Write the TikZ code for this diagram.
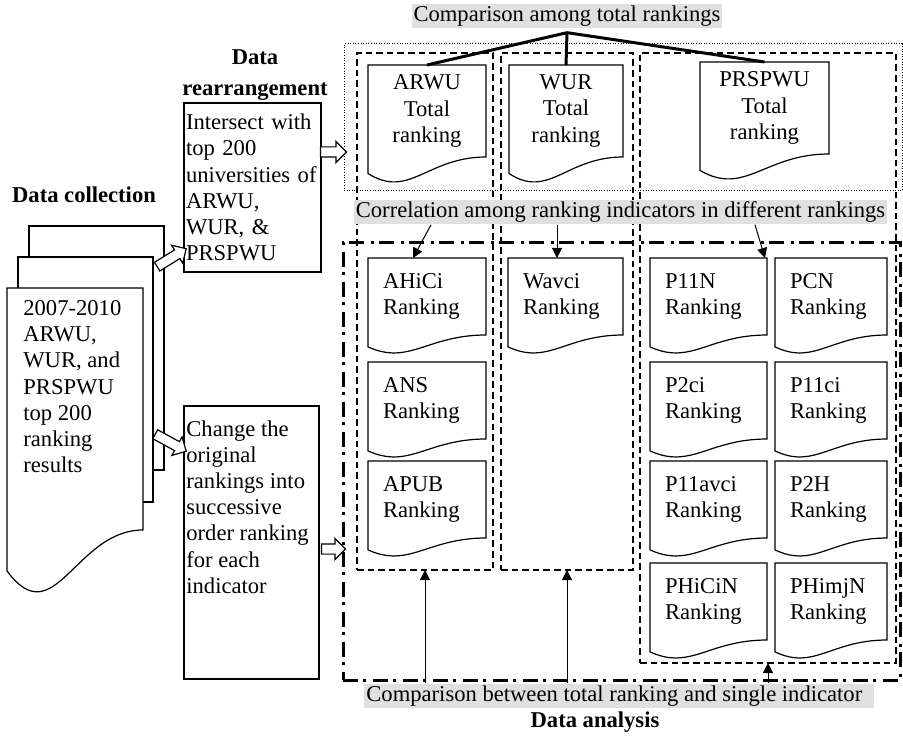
\documentclass[tikz,border=0pt]{standalone}
\usepackage{fontspec}
\setmainfont{Liberation Serif}
\usetikzlibrary{calc,shapes.arrows,arrows.meta}

\definecolor{capgray}{HTML}{E0E0E0}
\newcommand\diagfont{\fontsize{11.3}{13.1}\selectfont}

% document shape: straight sides, wavy edge under the node's south side
\newcommand\docoutline[3][]{%
  \draw[docline,#1] (#2.south east) -- (#2.north east) -- (#2.north west)
    -- ($(#2.south west)+(0,0.66*#3)$)
    .. controls ($(#2.south west)!0.35!(#2.south east)+(0,1.7*#3)$)
    and ($(#2.south west)!0.5!(#2.south east)$) .. (#2.south east) -- cycle;}

% hollow block arrow from one point to another
\newcommand\blockarrow[2]{%
  \path let \p1=(#1), \p2=(#2),
    \n1={atan2(\y2-\y1,\x2-\x1)}, \n2={veclen(\x2-\x1,\y2-\y1)} in
    node[blockarr, minimum height=\n2, rotate=\n1] at ($(\p1)!0.5!(\p2)$) {};}

\tikzset{
  procbox/.style={draw, line width=0.6pt, inner sep=0pt, outer sep=0pt},
  pagebox/.style={draw, fill=white, line width=0.6pt, inner sep=0pt, outer sep=0pt},
  docline/.style={line width=0.6pt},
  totdoc/.style={minimum height=46pt, align=center, inner sep=0pt, outer sep=0pt},
  rankdoc/.style={text width=#1, minimum height=38.5pt, inner xsep=7.5pt, inner ysep=0pt, outer sep=0pt, align=left},
  dotgrp/.style={draw, line width=0.5pt, dash pattern=on 0.5pt off 0.8pt, inner sep=0pt, outer sep=0pt},
  dashcol/.style={draw, line width=0.6pt, dash pattern=on 3.3pt off 2pt, inner sep=0pt, outer sep=0pt},
  anagrp/.style={draw, line width=1.5pt, dash pattern=on 7.5pt off 2.7pt on 1.5pt off 3.3pt, inner sep=0pt, outer sep=0pt},
  capbox/.style={fill=capgray, inner xsep=1pt, inner ysep=1pt},
  hdr/.style={font=\diagfont\bfseries, align=center},
  txt/.style={align=left, inner sep=0pt},
  totline/.style={line width=1.5pt},
  corrarrow/.style={line width=0.5pt, -{Triangle[length=5pt, width=5pt]}},
  blockarr/.style={single arrow, draw, fill=white, line width=0.6pt,
    inner xsep=0pt, inner ysep=2.25pt, outer sep=0pt,
    single arrow head extend=2.75pt, single arrow tip angle=90}
}

\begin{document}
\begin{tikzpicture}[x=0.5pt, y=-0.5pt, font=\diagfont]
\useasboundingbox (0,0) rectangle (903,737);

% Data collection (stack of pages)
\node[hdr] (collhdr) at (84,195) {Data collection};
\node[pagebox, minimum width=67.5pt, minimum height=122pt] (back) at (96.5,348) {};
\node[pagebox, minimum width=67.5pt, minimum height=122.5pt] (mid) at (85.5,379.5) {};
\node[minimum width=68pt, minimum height=121pt, inner sep=0pt, outer sep=0pt] (front) at (75,409) {};
\docoutline[fill=white]{front}{62}
\node[txt, anchor=north west] (fronttxt) at ([xshift=8pt,yshift=-6pt]front.north west)
  {2007-2010\\ARWU,\\WUR, and\\PRSPWU\\top 200\\ranking\\results};

% Data rearrangement
\node[hdr] (rearrhdr) at (255,75) {Data\\[2pt]rearrangement};
\node[procbox, minimum width=68.5pt, minimum height=84.5pt, text width=66.5pt, inner xsep=1pt, align=left]
  (isect) at (252.5,187.5) {Intersect with\\top 200\\universities of\\ARWU,\\WUR, \&\\PRSPWU};
\node[procbox, minimum width=67.5pt, minimum height=136.5pt] (change) at (251.5,542.5) {};
\node[txt, anchor=north west] (changetxt) at ([xshift=1pt,yshift=-7pt]change.north west)
  {Change the\\original\\rankings into\\successive\\order ranking\\for each\\indicator};

% Groups
\node[dotgrp, minimum width=279pt, minimum height=73.5pt] (totgrp) at (623,117.5) {};
\node[dashcol, minimum width=68pt, minimum height=258.5pt] (col1) at (425,311.5) {};
\node[dashcol, minimum width=66pt, minimum height=258.5pt] (col2) at (567,311.5) {};
\node[dashcol, minimum width=128pt, minimum height=305pt] (col3) at (768,358) {};
\node[anagrp, minimum width=278.5pt, minimum height=218.5pt] (anagrp) at (621.5,461.5) {};

% Total rankings
\node[totdoc, minimum width=59pt] (arwu) at (427,111) {ARWU\\Total\\ranking};
\node[totdoc, minimum width=57pt] (wur) at (566,111) {WUR\\Total\\ranking};
\node[totdoc, minimum width=64.5pt] (prspwu) at (764.5,108) {PRSPWU\\Total\\ranking};
\docoutline{arwu}{25}
\docoutline{wur}{25}
\docoutline{prspwu}{25}

% Indicator rankings
\foreach \name/\x/\y/\w/\lbl in {
    ahici/427/296.5/44pt/AHiCi, ans/427/400.5/44pt/ANS, apub/427/499.5/44pt/APUB,
    wavci/565.5/296.5/42.5pt/Wavci,
    p11n/708.5/296.5/43.5pt/P11N, ptwoci/708.5/400.5/43.5pt/P2ci,
    p11avci/708.5/499.5/43.5pt/P11avci, phicin/708.5/601.5/43.5pt/PHiCiN,
    pcn/831/296.5/41pt/PCN, p11ci/831/400.5/41pt/P11ci,
    ptwoh/831/499.5/41pt/P2H, phimjn/831/601.5/41pt/PHimjN} {
    \node[rankdoc=\w] (\name) at (\x,\y) {\lbl\\Ranking};
    \docoutline{\name}{18}
}

% Captions
\node[capbox] (topcap) at (567,16) {Comparison among total rankings};
\node[capbox] (corrcap) at (620.5,212) {Correlation among ranking indicators in different rankings};
\node[capbox, anchor=west] (bottcap) at (364,696) {Comparison between total ranking and single indicator\hspace*{5pt}};
\node[hdr] (anahdr) at (595,722) {Data analysis};

% Links
\coordinate (apex) at ([yshift=-2pt]topcap.south);
\draw[totline] (apex) -- (arwu.north);
\draw[totline] (apex) -- (wur.north);
\draw[totline] (apex) -- (prspwu.north);

\draw[corrarrow] ([xshift=-94.75pt]corrcap.south) -- ([xshift=-7pt]ahici.north);
\draw[corrarrow] ([xshift=-31.75pt]corrcap.south) -- ([xshift=-4.25pt]wavci.north);
\draw[corrarrow] ([xshift=67.25pt]corrcap.south) -- ([xshift=-1pt]p11n.north east);

\draw[corrarrow] (col1.south |- bottcap.north) -- (col1.south);
\draw[corrarrow] (col2.south |- bottcap.north) -- (col2.south);
\draw[corrarrow] (col3.south |- bottcap.north) -- (col3.south);

% Block arrows
\coordinate (a1) at (155,268);
\coordinate (a2) at (153,433);
\coordinate (a3) at (318,152);
\coordinate (a4) at (319,549);
\blockarrow{a1}{[yshift=11pt]isect.south west}
\blockarrow{a2}{[yshift=-22pt]change.north west}
\blockarrow{a3}{a3 -| totgrp.west}
\blockarrow{a4}{a4 -| anagrp.west}

\end{tikzpicture}
\end{document}
